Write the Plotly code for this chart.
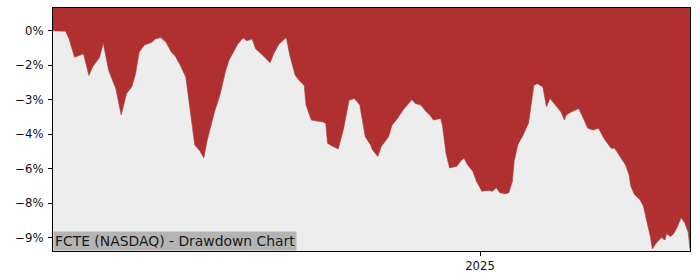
import plotly.graph_objects as go

# ---- data ----
dates = [
    "2024-05-08", "2024-05-15", "2024-05-17", "2024-05-20", "2024-05-25", "2024-05-28", "2024-05-30",
    "2024-06-03", "2024-06-05", "2024-06-08", "2024-06-12", "2024-06-15", "2024-06-18", "2024-06-21",
    "2024-06-23", "2024-06-25", "2024-06-28", "2024-07-02", "2024-07-04", "2024-07-07", "2024-07-10",
    "2024-07-13", "2024-07-15", "2024-07-18", "2024-07-21", "2024-07-23", "2024-07-26", "2024-07-29",
    "2024-07-31", "2024-08-02", "2024-08-04", "2024-08-06", "2024-08-09", "2024-08-12", "2024-08-14",
    "2024-08-16", "2024-08-19", "2024-08-22", "2024-08-24", "2024-08-27", "2024-08-29", "2024-09-01",
    "2024-09-04", "2024-09-06", "2024-09-08", "2024-09-11", "2024-09-13", "2024-09-15", "2024-09-17",
    "2024-09-20", "2024-09-23", "2024-09-25", "2024-09-26", "2024-09-29", "2024-10-02", "2024-10-05",
    "2024-10-07", "2024-10-08", "2024-10-11", "2024-10-14", "2024-10-17", "2024-10-20", "2024-10-23",
    "2024-10-26", "2024-10-29", "2024-11-01", "2024-11-02", "2024-11-05", "2024-11-07", "2024-11-11",
    "2024-11-13", "2024-11-16", "2024-11-19", "2024-11-22", "2024-11-24", "2024-11-26", "2024-11-29",
    "2024-12-02", "2024-12-04", "2024-12-06", "2024-12-10", "2024-12-11", "2024-12-13", "2024-12-15",
    "2024-12-19", "2024-12-21", "2024-12-23", "2024-12-25", "2024-12-28", "2024-12-30", "2025-01-02",
    "2025-01-06", "2025-01-08", "2025-01-10", "2025-01-12", "2025-01-15", "2025-01-17", "2025-01-19",
    "2025-01-20", "2025-01-22", "2025-01-25", "2025-01-28", "2025-01-30", "2025-01-31", "2025-02-02",
    "2025-02-05", "2025-02-07", "2025-02-09", "2025-02-12", "2025-02-15", "2025-02-17", "2025-02-18",
    "2025-02-21", "2025-02-25", "2025-02-28", "2025-03-02", "2025-03-05", "2025-03-08", "2025-03-09",
    "2025-03-11", "2025-03-13", "2025-03-15", "2025-03-17", "2025-03-20", "2025-03-23", "2025-03-25",
    "2025-03-26", "2025-03-28", "2025-03-31", "2025-04-02", "2025-04-04", "2025-04-06", "2025-04-07",
    "2025-04-09", "2025-04-12", "2025-04-14", "2025-04-15", "2025-04-17", "2025-04-19", "2025-04-21",
    "2025-04-23", "2025-04-25", "2025-04-27", "2025-04-28",
]
drawdown = [
    0.0, -0.02, -0.36, -1.15, -1.00, -1.94, -1.58,
    -1.15, -0.53, -1.72, -2.51, -3.66, -2.73, -2.42,
    -1.87, -0.93, -0.62, -0.50, -0.36, -0.29, -0.50,
    -0.93, -1.08, -1.51, -2.01, -3.23, -4.96, -5.24,
    -5.53, -4.74, -4.10, -3.52, -2.80, -1.80, -1.29,
    -1.00, -0.57, -0.31, -0.43, -0.36, -0.79, -1.00,
    -1.22, -1.39, -1.00, -0.57, -0.43, -0.29, -1.08,
    -1.94, -2.23, -2.37, -3.23, -3.88, -3.92, -3.95,
    -4.02, -4.89, -5.03, -5.13, -4.24, -3.02, -2.94,
    -3.23, -4.60, -4.96, -5.17, -5.46, -5.03, -4.60,
    -4.09, -3.81, -3.45, -3.16, -2.99, -3.16, -3.23,
    -3.52, -3.66, -3.88, -3.81, -4.09, -5.31, -5.96,
    -5.89, -5.68, -5.53, -5.82, -6.11, -6.54, -6.97,
    -6.94, -6.97, -6.82, -7.04, -7.08, -7.04, -6.54,
    -5.68, -4.96, -4.53, -4.02, -3.00, -2.37, -2.30,
    -2.44, -3.30, -2.94, -3.23, -3.52, -3.88, -3.66,
    -3.52, -3.38, -3.88, -4.24, -4.31, -4.24, -4.38,
    -4.67, -4.89, -5.10, -5.10, -5.46, -5.82, -6.25,
    -6.75, -7.11, -7.33, -7.61, -8.26, -8.98, -9.48,
    -9.24, -8.98, -9.09, -8.81, -8.95, -8.81, -8.52,
    -8.12, -8.33, -8.76, -9.48,
]
y_tick_vals = [0, -1.5, -3, -4.5, -6, -7.5, -9]
y_tick_text = ["0%", "\u22122%", "\u22123%", "\u22124%", "\u22126%", "\u22128%", "\u22129%"]
x_tick_vals = ["2025-01-01"]
x_tick_text = ["2025"]
title_text = "FCTE (NASDAQ) - Drawdown Chart"

# ---- style ----
RED = "#b03030"
BG = "#ededed"
Y_RANGE = [-9.57, 0.99]
FILL_TOP = 5  # beyond the visible range, clipped by the axis
FONT = "DejaVu Sans"

fig = go.Figure()
fig.add_trace(go.Scatter(
    x=dates, y=[FILL_TOP] * len(dates), mode="lines",
    line=dict(width=0, color=RED), hoverinfo="skip", showlegend=False,
))
fig.add_trace(go.Scatter(
    x=dates, y=drawdown, mode="lines", fill="tonexty", fillcolor=RED,
    line=dict(width=0.6, color="#a04040"), showlegend=False,
))

fig.update_layout(
    width=700, height=280,
    margin=dict(l=53, r=10, t=7, b=28),
    paper_bgcolor="white", plot_bgcolor=BG,
    font=dict(family=FONT, size=11.7, color="#111"),
    xaxis=dict(
        type="date", range=[dates[0], dates[-1]],
        tickvals=x_tick_vals, ticktext=x_tick_text,
        ticks="outside", ticklen=4, tickcolor="black",
        showline=True, linecolor="black", linewidth=1, mirror=True,
        showgrid=False, zeroline=False,
    ),
    yaxis=dict(
        range=Y_RANGE, tickvals=y_tick_vals, ticktext=y_tick_text,
        ticks="outside", ticklen=4, tickcolor="black", ticklabelstandoff=2,
        showline=True, linecolor="black", linewidth=1, mirror=True,
        showgrid=False, zeroline=False,
    ),
    annotations=[dict(
        text=title_text, xref="paper", yref="paper", x=0, y=0,
        xanchor="left", yanchor="bottom", showarrow=False,
        bgcolor="#b4b4b4", borderpad=1,
        font=dict(family=FONT, size=13.9, color="#1a1a1a"),
    )],
)

fig.write_html("out.html")
